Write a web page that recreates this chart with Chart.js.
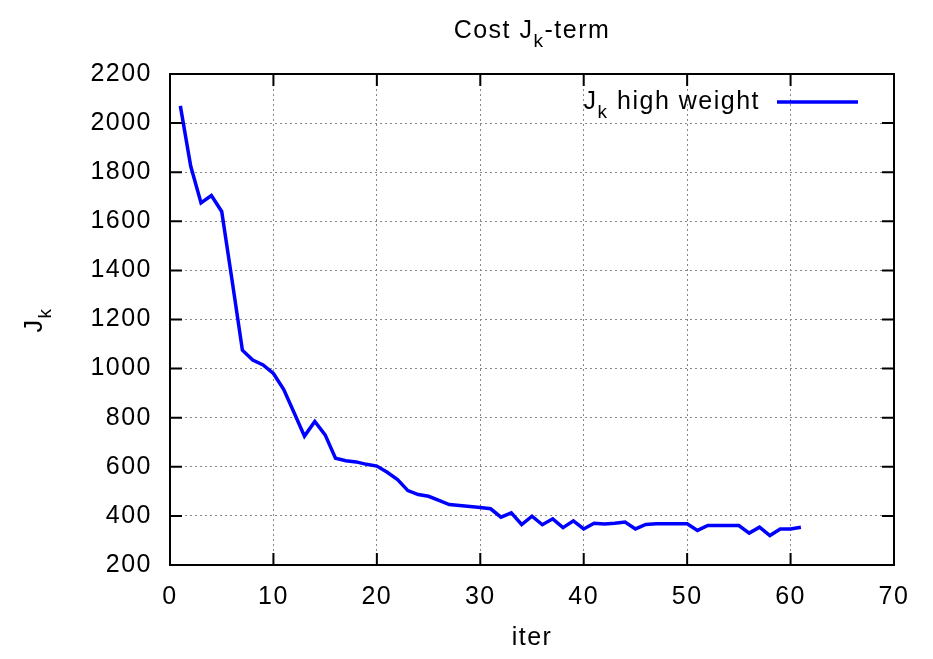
<!DOCTYPE html>
<html>
<head>
<meta charset="utf-8">
<title>Cost Jk-term</title>
<script src="https://cdn.jsdelivr.net/npm/chart.js@4.4.1/dist/chart.umd.min.js"></script>
<style>
    html, body { margin: 0; padding: 0; background: #fff; }
    #wrap { width: 933px; height: 659px; }
</style>
</head>
<body>
<div id="wrap"><canvas id="costChart"></canvas></div>
<script>
// Iterações
const iterations = [
    1, 2, 3, 4, 5, 6, 7, 8, 9, 10,
    11, 12, 13, 14, 15, 16, 17, 18, 19, 20,
    21, 22, 23, 24, 25, 26, 27, 28, 29, 30,
    31, 32, 33, 34, 35, 36, 37, 38, 39, 40,
    41, 42, 43, 44, 45, 46, 47, 48, 49, 50,
    51, 52, 53, 54, 55, 56, 57, 58, 59, 60, 61
];

// Custo Jk (peso alto)
const jkHighWeight = [
    2070, 1825, 1675, 1705, 1640, 1360, 1075, 1035, 1015, 980,
    915, 820, 725, 785, 730, 635, 625, 620, 610, 603,
    578, 548, 503, 487, 480, 463, 446, 442, 438, 434,
    429, 395, 412, 365, 399, 364, 388, 352, 380, 347,
    370, 367, 370, 375, 347, 365, 368, 368, 368, 368,
    341, 361, 361, 361, 361, 330, 354, 320, 347, 347, 354
];

// Eixos
const xTicks = [0, 10, 20, 30, 40, 50, 60, 70];
const yTicks = [200, 400, 600, 800, 1000, 1200, 1400, 1600, 1800, 2000, 2200];

const FONT = '"Liberation Sans", Arial, sans-serif';
const SIZE = 25;
const SUB_SIZE = 19;
const SPACING = '1.5px';

// Escreve texto com partes em subscrito: [[texto, sub?], ...]
function drawRich(ctx, parts, x, y, align) {
    ctx.letterSpacing = SPACING;
    const widths = parts.map(p => {
        ctx.font = (p[1] ? SUB_SIZE : SIZE) + 'px ' + FONT;
        return ctx.measureText(p[0]).width;
    });
    const total = widths.reduce((a, b) => a + b, 0);
    let cx = x;
    if (align === 'center') cx = x - total / 2;
    if (align === 'right') cx = x - total;
    ctx.textAlign = 'left';
    ctx.textBaseline = 'alphabetic';
    parts.forEach((p, i) => {
        ctx.font = (p[1] ? SUB_SIZE : SIZE) + 'px ' + FONT;
        ctx.fillText(p[0], cx, p[1] ? y + 9 : y);
        cx += widths[i];
    });
}

// Espaçamento das letras dos rótulos dos eixos
const spacingPlugin = {
    id: 'spacing',
    beforeDraw(chart) {
        chart.ctx.letterSpacing = SPACING;
    }
};

// Moldura, marcas internas, títulos e legenda
const framePlugin = {
    id: 'frame',
    afterDraw(chart) {
        const ctx = chart.ctx;
        const area = chart.chartArea;
        const xs = chart.scales.x;
        const ys = chart.scales.y;
        const tick = 12;

        ctx.save();
        ctx.strokeStyle = '#000';
        ctx.lineWidth = 2;
        ctx.beginPath();
        xTicks.forEach(v => {
            const px = xs.getPixelForValue(v);
            ctx.moveTo(px, area.bottom);
            ctx.lineTo(px, area.bottom - tick);
            ctx.moveTo(px, area.top);
            ctx.lineTo(px, area.top + tick);
        });
        yTicks.forEach(v => {
            const py = ys.getPixelForValue(v);
            ctx.moveTo(area.left, py);
            ctx.lineTo(area.left + tick, py);
            ctx.moveTo(area.right, py);
            ctx.lineTo(area.right - tick, py);
        });
        ctx.stroke();
        ctx.strokeRect(area.left, area.top, area.right - area.left, area.bottom - area.top);

        ctx.fillStyle = '#000';
        // Título
        drawRich(ctx, [['Cost J', false], ['k', true], ['-term', false]], (area.left + area.right) / 2, 38, 'center');

        // Rótulo do eixo x
        drawRich(ctx, [['iter', false]], (area.left + area.right) / 2, 645, 'center');

        // Rótulo do eixo y
        ctx.save();
        ctx.translate(42, 320);
        ctx.rotate(-Math.PI / 2);
        drawRich(ctx, [['J', false], ['k', true]], 0, 0, 'center');
        ctx.restore();

        // Legenda
        drawRich(ctx, [['J', false], ['k', true], [' high weight', false]], 760, 109, 'right');
        const ds = chart.data.datasets[0];
        ctx.strokeStyle = ds.borderColor;
        ctx.lineWidth = ds.borderWidth;
        ctx.beginPath();
        ctx.moveTo(777, 102);
        ctx.lineTo(858, 102);
        ctx.stroke();
        ctx.restore();
    }
};

const gridDash = [2, 3];

new Chart(document.getElementById('costChart'), {
    type: 'line',
    data: {
        datasets: [{
            label: 'Jk high weight',
            data: iterations.map((it, i) => ({ x: it, y: jkHighWeight[i] })),
            borderColor: '#0000ff',
            borderWidth: 3.5,
            pointRadius: 0,
            tension: 0,
            fill: false
        }]
    },
    options: {
        responsive: true,
        maintainAspectRatio: false,
        animation: false,
        layout: { padding: { top: 74, right: 39, left: 0, bottom: 0 } },
        plugins: {
            legend: { display: false },
            title: { display: false },
            tooltip: { enabled: false }
        },
        scales: {
            x: {
                type: 'linear',
                min: 0,
                max: 70,
                afterFit: s => { s.height = 94; },
                afterBuildTicks: s => { s.ticks = xTicks.map(v => ({ value: v })); },
                ticks: {
                    color: '#000',
                    padding: 17,
                    maxRotation: 0,
                    callback: v => String(v),
                    font: { family: FONT, size: SIZE }
                },
                grid: { color: '#888', lineWidth: 1, drawTicks: false },
                border: { display: false, dash: gridDash }
            },
            y: {
                min: 200,
                max: 2200,
                afterFit: s => { s.width = 170; },
                afterBuildTicks: s => { s.ticks = yTicks.map(v => ({ value: v })); },
                ticks: {
                    color: '#000',
                    padding: 18,
                    callback: v => String(v),
                    font: { family: FONT, size: SIZE }
                },
                grid: { color: '#888', lineWidth: 1, drawTicks: false },
                border: { display: false, dash: gridDash }
            }
        }
    },
    plugins: [spacingPlugin, framePlugin]
});
</script>
</body>
</html>
